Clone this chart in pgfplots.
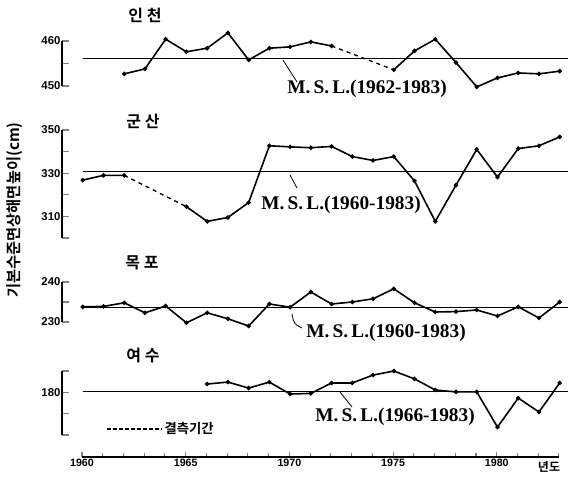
\documentclass[border=0pt]{standalone}
\usepackage{fontspec}
\setmainfont{Liberation Sans}
\newfontfamily\msl{Liberation Serif}
\newfontfamily\kr{Noto Sans CJK KR}[BoldFont={Noto Sans CJK KR Bold}]
\usepackage{pgfplots}
\pgfplotsset{compat=1.18}

\pgfplotsset{
  panel/.style={
    scale only axis, width=379.5pt,
    xmin=1959, xmax=1983.4,
    axis x line=none, axis y line=left,
    y axis line style={-, line width=1.3pt},
    tick align=inside, ytick pos=left,
    major tick length=5pt,
    ytick style={line width=1pt},
    yticklabel style={font=\fontsize{8.5}{9}\selectfont\bfseries, inner sep=1pt},
    clip=false,
  },
  obs/.style={black, line width=1.2pt, mark=*, mark size=1pt},
  gap/.style={black, line width=1pt, dashed},
  mslline/.style={black, line width=0.9pt},
}

\begin{document}
\begin{tikzpicture}
\useasboundingbox (0pt,0pt) rectangle (426.75pt,-359.25pt);

% Incheon
\begin{axis}[panel, height=33.75pt, at={(46.5pt,-64.5pt)}, anchor=south west,
  ymin=450, ymax=460, ytick={450,455,460}, yticklabels={450,,460}]
\addplot[mslline] coordinates {(1960,456.2) (1983.4,456.2)};
\addplot[obs] coordinates {
  (1962,452.7) (1963,453.8) (1964,460.4) (1965,457.6) (1966,458.4)
  (1967,461.8) (1968,455.8) (1969,458.4) (1970,458.7) (1971,459.8) (1972,458.9)};
\addplot[gap] coordinates {(1972,458.9) (1975,453.6)};
\addplot[obs] coordinates {
  (1975,453.6) (1976,457.8) (1977,460.4) (1978,455.2) (1979,449.8)
  (1980,451.8) (1981,452.9) (1982,452.7) (1983,453.3)};
\end{axis}

% Gunsan
\begin{axis}[panel, height=81pt, at={(46.5pt,-178.5pt)}, anchor=south west,
  ymin=300, ymax=350, ytick={300,310,...,350}, yticklabels={,310,,330,,350}]
\addplot[mslline] coordinates {(1960,330.9) (1983.4,330.9)};
\addplot[obs] coordinates {(1960,326.8) (1961,329) (1962,329)};
\addplot[gap] coordinates {(1962,329) (1965,314.5)};
\addplot[obs] coordinates {
  (1965,314.5) (1966,307.7) (1967,309.5) (1968,316.4) (1969,342.7)
  (1970,342.2) (1971,341.8) (1972,342.4) (1973,337.7) (1974,335.9)
  (1975,337.7) (1976,326.4) (1977,307.7) (1978,324.5) (1979,341)
  (1980,328.2) (1981,341.4) (1982,342.7) (1983,346.8)};
\end{axis}

% Mokpo
\begin{axis}[panel, height=30pt, at={(46.5pt,-241.5pt)}, anchor=south west,
  ymin=230, ymax=240, ytick={230,235,240}, yticklabels={230,,240}]
\addplot[mslline] coordinates {(1960,233.6) (1983.4,233.6)};
\addplot[obs] coordinates {
  (1960,233.8) (1961,233.9) (1962,234.8) (1963,232.3) (1964,234)
  (1965,229.8) (1966,232.3) (1967,230.8) (1968,229) (1969,234.5)
  (1970,233.7) (1971,237.5) (1972,234.5) (1973,235) (1974,235.8)
  (1975,238.3) (1976,234.8) (1977,232.5) (1978,232.6) (1979,233)
  (1980,231.5) (1981,233.8) (1982,231) (1983,235)};
\end{axis}

% Yeosu
\begin{axis}[panel, height=48pt, at={(46.5pt,-326.25pt)}, anchor=south west,
  ymin=160, ymax=190, ytick={160,170,180,190}, yticklabels={,,180,}]
\addplot[mslline] coordinates {(1960,180.3) (1983.4,180.3)};
\addplot[obs] coordinates {
  (1966,183.9) (1967,184.8) (1968,182) (1969,184.8) (1970,179.2)
  (1971,179.5) (1972,184.4) (1973,184.4) (1974,188.1) (1975,190)
  (1976,186.3) (1977,181.1) (1978,180.2) (1979,180.2) (1980,163.7)
  (1981,177.3) (1982,170.8) (1983,184.4)};
\end{axis}

% year axis
\begin{axis}[scale only axis, width=357.75pt, height=10pt,
  at={(61.5pt,-342.75pt)}, anchor=south west,
  xmin=1960, xmax=1983, ymin=0, ymax=1,
  axis y line=none, axis x line=bottom,
  x axis line style={-, line width=1.3pt},
  xtick={1960,1965,1970,1975,1980},
  xticklabels={1960,1965,1970,1975,1980},
  minor xtick={1961,...,1983},
  tick align=inside, major tick length=4pt, minor tick length=3pt,
  xtick style={line width=0.8pt},
  xticklabel style={font=\fontsize{8}{9}\selectfont\bfseries, inner sep=1.5pt}]
\addplot[draw=none] coordinates {(1960,0) (1983,0)};
\end{axis}

\begin{scope}[x=0.75pt, y=-0.75pt]
\tikzset{ttl/.style={font=\kr\fontsize{12}{13}\selectfont\bfseries},
         lab/.style={font=\msl\fontsize{14.5}{16}\selectfont\bfseries, inner sep=0pt}}
\node[ttl] at (145,15) {인 천};
\node[ttl] at (143,121) {군 산};
\node[ttl] at (142,263) {목 포};
\node[ttl] at (143,356) {여 수};

\node[lab] at (367,89) {M.\,S.\,L.(1962-1983)};
\node[lab] at (341,205) {M.\,S.\,L.(1960-1983)};
\node[lab] at (386,333) {M.\,S.\,L.(1960-1983)};
\node[lab] at (395,417) {M.\,S.\,L.(1966-1983)};

\draw[line width=0.6pt] (283,60) -- (297,82);
\draw[line width=0.6pt] (290,175) -- (297,188);
\draw[line width=0.6pt] (292,314) .. controls (294,324) .. (302,328);
\draw[line width=0.6pt] (340,392) -- (352,407);

\node[rotate=90, font=\kr\fontsize{11.5}{12}\selectfont\bfseries] at (15,210) {기본수준면상해면높이(cm)};

\draw[line width=1pt, dash pattern=on 3pt off 1.5pt] (107,429) -- (162,429);
\node[font=\kr\fontsize{10}{11}\selectfont\bfseries, anchor=west, inner sep=1pt] at (163,429) {결측기간};
\node[font=\kr\fontsize{9}{10}\selectfont\bfseries] at (549,467) {년도};
\end{scope}
\end{tikzpicture}
\end{document}
